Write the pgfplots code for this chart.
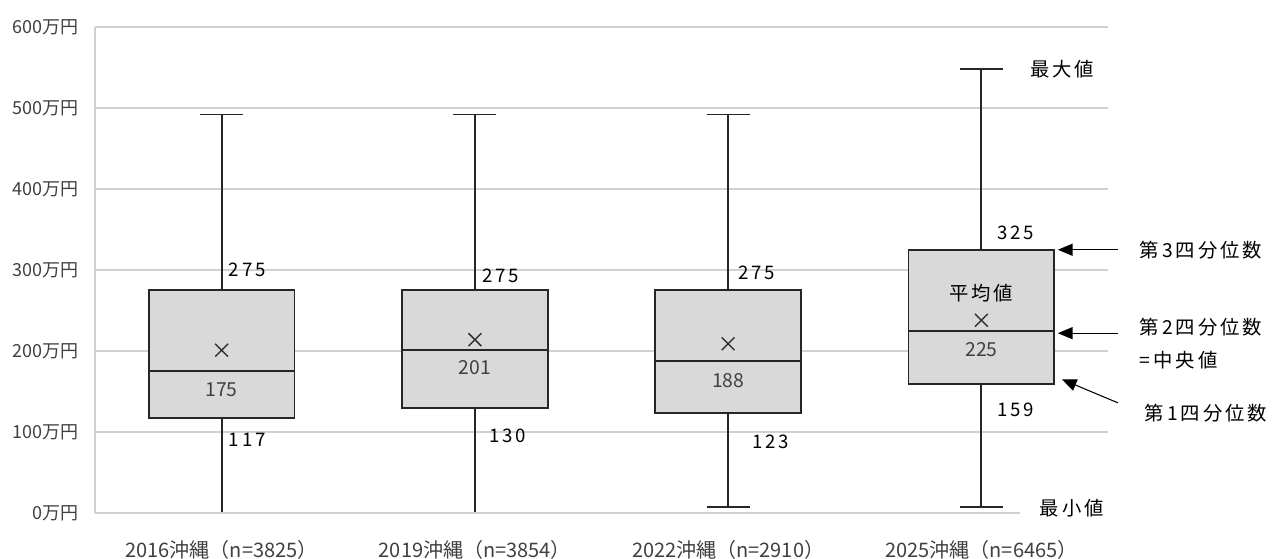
\documentclass[border=0pt]{standalone}
\usepackage{fontspec}
\setmainfont{Noto Sans CJK JP}
\newfontfamily\lsp[LetterSpace=15]{Noto Sans CJK JP}
\usepackage{pgfplots}
\pgfplotsset{compat=1.18}
\usetikzlibrary{arrows.meta}
\definecolor{boxgray}{HTML}{D9D9D9}
\definecolor{gridgray}{HTML}{D0D0D0}
\definecolor{txtgray}{HTML}{404040}
\begin{document}
\begin{tikzpicture}
\path[use as bounding box] (0pt,0pt) rectangle (956.25pt,418.5pt);
\begin{axis}[
  at={(71.25pt,33.75pt)}, anchor=south west,
  scale only axis, width=759.75pt, height=364.5pt,
  xmin=-0.5, xmax=3.5, ymin=0, ymax=600,
  clip=false,
  axis lines*=left,
  axis line style={draw=gridgray, line width=1pt, -},
  major tick style={draw=none},
  xtick=\empty,
  ytick={0,100,200,300,400,500,600},
  yticklabels={0万円,100万円,200万円,300万円,400万円,500万円,600万円},
  yticklabel style={font=\fontsize{13.5pt}{15pt}\selectfont, text=txtgray, xshift=-9pt},
  ymajorgrids, grid style={gridgray, line width=1pt},
  bx/.style={draw=black!85, solid, mark=none, line width=1.4pt, line join=miter},
]
% ---- 2016: min 0, Q1 117, median 175, Q3 275, max 492
\addplot[bx] coordinates {(0,275) (0,492)};
\addplot[bx] coordinates {(-0.085,492) (0.085,492)};
\addplot[bx] coordinates {(0,0) (0,117)};
\addplot[bx] coordinates {(-0.085,0) (0.085,0)};
\addplot[bx, fill=boxgray] coordinates {(-0.288,117) (0.288,117) (0.288,275) (-0.288,275) (-0.288,117)} -- cycle;
\addplot[bx] coordinates {(-0.288,175) (0.288,175)};
% ---- 2019: min 0, Q1 130, median 201, Q3 275, max 492
\addplot[bx] coordinates {(1,275) (1,492)};
\addplot[bx] coordinates {(0.915,492) (1.085,492)};
\addplot[bx] coordinates {(1,0) (1,130)};
\addplot[bx] coordinates {(0.915,0) (1.085,0)};
\addplot[bx, fill=boxgray] coordinates {(0.712,130) (1.288,130) (1.288,275) (0.712,275) (0.712,130)} -- cycle;
\addplot[bx] coordinates {(0.712,201) (1.288,201)};
% ---- 2022: min 7, Q1 123, median 188, Q3 275, max 492
\addplot[bx] coordinates {(2,275) (2,492)};
\addplot[bx] coordinates {(1.915,492) (2.085,492)};
\addplot[bx] coordinates {(2,7) (2,123)};
\addplot[bx] coordinates {(1.915,7) (2.085,7)};
\addplot[bx, fill=boxgray] coordinates {(1.712,123) (2.288,123) (2.288,275) (1.712,275) (1.712,123)} -- cycle;
\addplot[bx] coordinates {(1.712,188) (2.288,188)};
% ---- 2025: min 7, Q1 159, median 225, Q3 325, max 548
\addplot[bx] coordinates {(3,325) (3,548)};
\addplot[bx] coordinates {(2.915,548) (3.085,548)};
\addplot[bx] coordinates {(3,7) (3,159)};
\addplot[bx] coordinates {(2.915,7) (3.085,7)};
\addplot[bx, fill=boxgray] coordinates {(2.712,159) (3.288,159) (3.288,325) (2.712,325) (2.712,159)} -- cycle;
\addplot[bx] coordinates {(2.712,225) (3.288,225)};
% means
\addplot[only marks, mark=x, mark size=6.8pt, mark options={draw=black!80, solid, line width=1.1pt}] coordinates {(0,201) (1,214) (2,209) (3,238)};
% baseline drawn over the zero caps
\draw[gridgray, line width=2pt] (axis cs:-0.5,0) -- (axis cs:3.5,0);
% category labels
\begin{scope}[every node/.style={font=\fontsize{15pt}{17pt}\selectfont, text=txtgray}]
\node at (axis cs:0,-46) {2016沖縄（n=3825）};
\node at (axis cs:1,-46) {2019沖縄（n=3854）};
\node at (axis cs:2,-46) {2022沖縄（n=2910）};
\node at (axis cs:3,-46) {2025沖縄（n=6465）};
\end{scope}
% median labels
\begin{scope}[every node/.style={font=\fontsize{14.5pt}{16pt}\selectfont, text=txtgray}]
\node at (axis cs:0,152) {175};
\node at (axis cs:1,179) {201};
\node at (axis cs:2,164) {188};
\node at (axis cs:3,202) {225};
\end{scope}
% quartile labels
\begin{scope}[every node/.style={font=\lsp\fontsize{14pt}{16pt}\selectfont, anchor=west, inner sep=0pt}]
\node at (axis cs:0.028,300) {275};
\node at (axis cs:1.028,293) {275};
\node at (axis cs:2.04,297) {275};
\node at (axis cs:3.063,346) {325};
\node at (axis cs:0.028,90) {117};
\node at (axis cs:1.055,95) {130};
\node at (axis cs:2.095,88) {123};
\node at (axis cs:3.063,127) {159};
\end{scope}
% annotations
\begin{scope}[every node/.style={font=\lsp\fontsize{14.5pt}{16pt}\selectfont}]
\node at (axis cs:3,272) {平均値};
\node at (axis cs:3.318,548) {最大値};
\node[fill=white, inner xsep=15pt, inner ysep=1pt] at (axis cs:3.357,6) {最小値};
\node[anchor=west, inner sep=0pt] at (axis cs:3.625,325) {第3四分位数};
\node[anchor=west, inner sep=0pt] at (axis cs:3.625,230) {第2四分位数};
\node[anchor=west, inner sep=0pt] at (axis cs:3.625,189) {=中央値};
\node[anchor=west, inner sep=0pt] at (axis cs:3.645,123) {第1四分位数};
\end{scope}
\draw[-{Triangle[length=11pt,width=9pt]}, line width=0.8pt] (axis cs:3.539,325) -- (axis cs:3.302,325);
\draw[-{Triangle[length=11pt,width=9pt]}, line width=0.8pt] (axis cs:3.539,222) -- (axis cs:3.302,222);
\draw[-{Triangle[length=11pt,width=9pt]}, line width=0.8pt] (axis cs:3.539,136) -- (axis cs:3.318,165);
\end{axis}
\end{tikzpicture}
\end{document}
